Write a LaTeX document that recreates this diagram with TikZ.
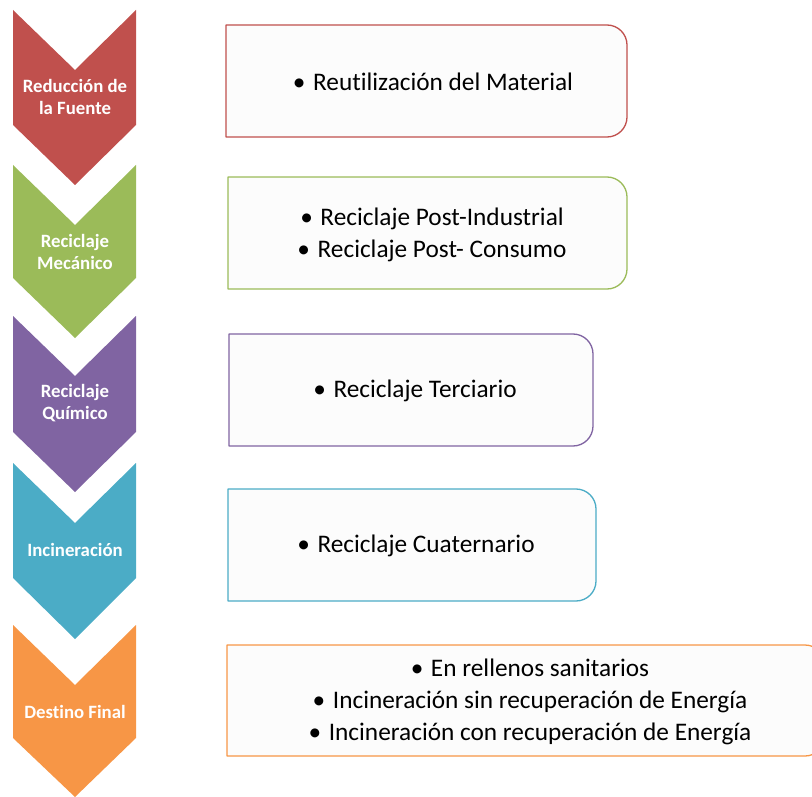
\documentclass[tikz,border=0pt]{standalone}
\usepackage{fontspec}
\setmainfont{Carlito}[Ligatures=NoCommon]
\usepackage{tikz}

\definecolor{fuente}{HTML}{C0504D}
\definecolor{mecanico}{HTML}{9BBB59}
\definecolor{quimico}{HTML}{8064A2}
\definecolor{incin}{HTML}{4BACC6}
\definecolor{destino}{HTML}{F79646}

\begin{document}
\begin{tikzpicture}[x=1pt,y=-1pt,line join=round]
\tikzstyle{chev} = [draw=none]
\tikzstyle{lbl} = [text=white,font=\fontsize{18.8}{21.5}\selectfont\bfseries,align=center,inner sep=0pt]
\tikzstyle{card} = [fill=black!1,line width=1.3pt]
\tikzstyle{item} = [font=\fontsize{25.3}{31.8}\selectfont,align=center,inner sep=0pt]
\useasboundingbox (0,0) rectangle (812,797);
% chevrons down the left side
\fill[chev,fuente](13,10)--(75,70)--(136,10)--(136,125)--(75,185)--(13,125)--cycle;
\fill[chev,mecanico](13,165)--(75,225)--(136,165)--(136,278)--(75,338)--(13,278)--cycle;
\fill[chev,quimico](13,316)--(75,376)--(136,316)--(136,432)--(75,492)--(13,432)--cycle;
\fill[chev,incin](13,463)--(75,523)--(136,463)--(136,578)--(75,639)--(13,578)--cycle;
\fill[chev,destino](13,625)--(75,685)--(136,625)--(136,738)--(75,797)--(13,738)--cycle;
\node[lbl] (fuente-lbl) at (75,97) {Reducción de\\la Fuente};
\node[lbl] (mecanico-lbl) at (75,252) {Reciclaje\\Mecánico};
\node[lbl] (quimico-lbl) at (75,403) {Reciclaje\\Químico};
\node[lbl] (incin-lbl) at (75,550) {Incineración};
\node[lbl] (destino-lbl) at (75,712) {Destino Final};
% cards, rounded on the right only
\filldraw[card,draw=fuente](226,25)--(607,25) arc[start angle=-90,end angle=0,radius=20]--(627,117) arc[start angle=0,end angle=90,radius=20]--(226,137)--cycle;
\filldraw[card,draw=mecanico](228,177)--(607,177) arc[start angle=-90,end angle=0,radius=20]--(627,269) arc[start angle=0,end angle=90,radius=20]--(228,289)--cycle;
\filldraw[card,draw=quimico](229,334)--(573,334) arc[start angle=-90,end angle=0,radius=20]--(593,426) arc[start angle=0,end angle=90,radius=20]--(229,446)--cycle;
\filldraw[card,draw=incin](228,489)--(576,489) arc[start angle=-90,end angle=0,radius=20]--(596,581) arc[start angle=0,end angle=90,radius=20]--(228,601)--cycle;
\filldraw[card,draw=destino](227,645)--(805,645) arc[start angle=-90,end angle=0,radius=20]--(825,736) arc[start angle=0,end angle=90,radius=20]--(227,756)--cycle;
\node[item] (fuente-txt) at (433,82) {\textbullet\hspace{0.3em}Reutilización del Material};
\node[item] (mecanico-txt) at (432,235) {\textbullet\hspace{0.3em}Reciclaje Post-Industrial\\\textbullet\hspace{0.3em}Reciclaje Post- Consumo};
\node[item] (quimico-txt) at (415,391) {\textbullet\hspace{0.3em}Reciclaje Terciario};
\node[item] (incin-txt) at (416,546) {\textbullet\hspace{0.3em}Reciclaje Cuaternario};
\node[item] (destino-txt) at (530,702) {\textbullet\hspace{0.3em}En rellenos sanitarios\\\textbullet\hspace{0.3em}Incineración sin recuperación de Energía\\\textbullet\hspace{0.3em}Incineración con recuperación de Energía};
\end{tikzpicture}
\end{document}
